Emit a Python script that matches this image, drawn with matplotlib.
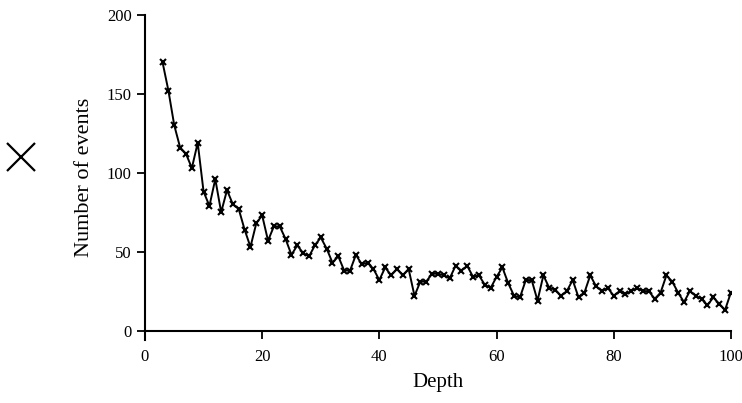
import matplotlib
matplotlib.use("Agg")
import matplotlib.pyplot as plt
from matplotlib.lines import Line2D

depth = list(range(3, 101))
events = [170, 152, 130, 116, 112, 103, 119, 88, 79, 96,
          75, 89, 80, 77, 64, 53, 68, 73, 57, 66,
          66, 58, 48, 54, 49, 47, 54, 59, 52, 43,
          47, 38, 38, 48, 42, 43, 39, 32, 40, 35,
          39, 35, 39, 22, 31, 31, 36, 36, 35, 33,
          41, 38, 41, 34, 35, 29, 27, 34, 40, 30,
          22, 21, 32, 32, 19, 35, 27, 26, 22, 25,
          32, 21, 24, 35, 28, 25, 27, 22, 25, 23,
          25, 27, 25, 25, 20, 24, 35, 31, 24, 18,
          25, 22, 20, 16, 21, 17, 13, 24]
xticks = [0, 20, 40, 60, 80, 100]
yticks = [0, 50, 100, 150, 200]

plt.rcParams['font.family'] = ['Liberation Serif', 'DejaVu Serif']

fig = plt.figure(figsize=(7.42, 4.03), dpi=100)
ax = fig.add_axes([0.1954, 0.1563, 0.7896, 0.8065])
ax.plot(depth, events, color='black', lw=1.4, marker='x', ms=5, mew=1.5)
ax.set_xlim(0, 100)
ax.set_ylim(-6, 200)
ax.set_xticks(xticks)
ax.set_yticks(yticks)
ax.spines['top'].set_visible(False)
ax.spines['right'].set_visible(False)
ax.spines['bottom'].set_position(('data', 0))
ax.spines['left'].set_linewidth(1.5)
ax.spines['bottom'].set_linewidth(1.5)
ax.tick_params(axis='both', direction='out', length=6, width=1.3, labelsize=12)
ax.tick_params(axis='x', pad=7)
ax.set_xlabel('Depth', fontsize=15, labelpad=6)
ax.set_ylabel('Number of events', fontsize=16, labelpad=9)

fig.add_artist(Line2D([21 / 742], [1 - 157 / 403], transform=fig.transFigure,
                      marker='x', ms=20, mew=1.6, color='black', linestyle='none'))

fig.savefig('out.png', dpi=100)
